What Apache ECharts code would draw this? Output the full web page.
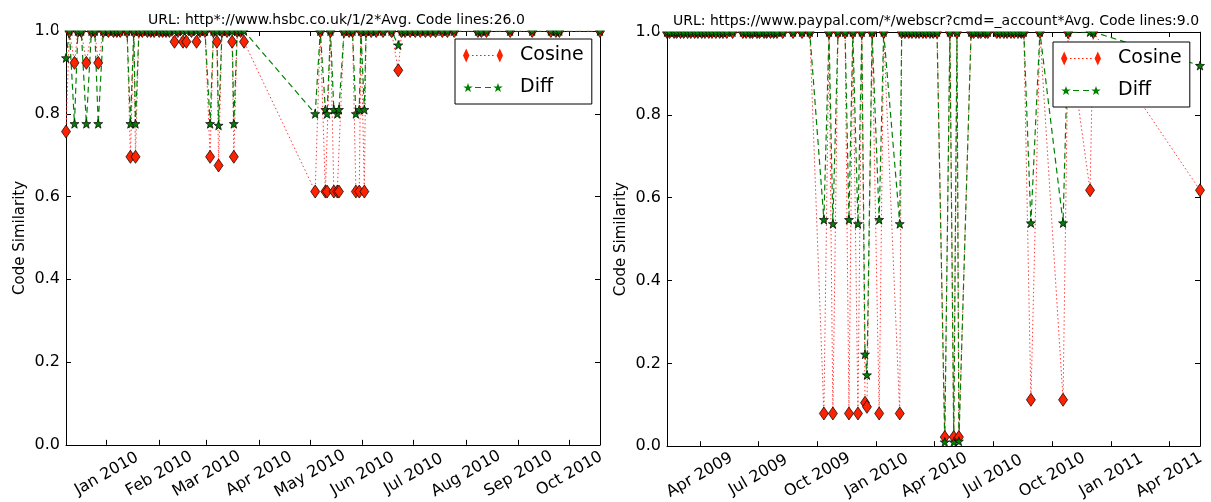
<!DOCTYPE html>
<html>
<head>
<meta charset="utf-8">
<script src="https://cdn.jsdelivr.net/npm/echarts@6/dist/echarts.min.js"></script>
<style>
  html, body { margin: 0; padding: 0; background: #fff; }
  #main { width: 1211px; height: 502px; }
</style>
</head>
<body>
<div id="main"></div>
<script>
const leftTitle = 'URL: http*://www.hsbc.co.uk/1/2*Avg. Code lines:26.0';
const rightTitle = 'URL: https://www.paypal.com/*/webscr?cmd=_account*Avg. Code lines:9.0';
const seriesNames = ['Cosine', 'Diff'];

// left plot (hsbc)
const leftDates = [
  '2009-12-08','2009-12-10','2009-12-13','2009-12-15','2009-12-17','2009-12-20','2009-12-23','2009-12-25','2009-12-27','2009-12-30',
  '2010-01-02','2010-01-05','2010-01-07','2010-01-09','2010-01-13','2010-01-15','2010-01-17','2010-01-18','2010-01-20','2010-01-22','2010-01-25','2010-01-27','2010-01-29',
  '2010-02-01','2010-02-03','2010-02-05','2010-02-07','2010-02-10','2010-02-12','2010-02-15','2010-02-17','2010-02-20','2010-02-23','2010-02-25','2010-02-28',
  '2010-03-03','2010-03-05','2010-03-07','2010-03-08','2010-03-10','2010-03-13','2010-03-16','2010-03-17','2010-03-19','2010-03-21','2010-03-23',
  '2010-05-04','2010-05-07','2010-05-10','2010-05-11','2010-05-13','2010-05-15','2010-05-17','2010-05-18','2010-05-21','2010-05-24','2010-05-26','2010-05-28','2010-05-30','2010-05-31',
  '2010-06-02','2010-06-03','2010-06-06','2010-06-09','2010-06-13','2010-06-18','2010-06-22','2010-06-24','2010-06-26','2010-06-29',
  '2010-07-02','2010-07-05','2010-07-08','2010-07-11','2010-07-14','2010-07-18','2010-07-21','2010-07-25',
  '2010-08-08','2010-08-10','2010-08-13','2010-08-27',
  '2010-09-09','2010-09-20','2010-09-23','2010-09-25',
  '2010-10-19'
];
const leftCosine = [
  0.757,1,0.923,1,1,0.923,1,1,0.923,1,
  1,1,1,1,1,0.696,1,0.696,1,1,1,1,1,
  1,1,1,1,0.974,1,0.974,0.974,1,0.974,1,1,
  0.696,1,0.974,0.675,1,1,0.974,0.696,1,1,0.974,
  0.612,1,0.612,0.612,1,0.612,0.612,0.612,1,1,1,0.612,0.612,1,
  0.612,1,1,1,1,1,0.905,1,1,1,
  1,1,1,1,1,1,1,1,
  1,1,1,1,
  1,1,1,1,
  1
];
const leftDiff = [
  0.935,1,0.776,1,1,0.776,1,1,0.776,1,
  1,1,1,1,1,0.776,1,0.776,1,1,1,1,1,
  1,1,1,1,1,1,1,1,1,1,1,1,
  0.776,1,1,0.772,1,1,1,0.776,1,1,1,
  0.8,1,0.81,0.8,1,0.81,0.8,0.81,1,1,1,0.8,0.81,1,
  0.81,1,1,1,1,1,0.966,1,1,1,
  1,1,1,1,1,1,1,1,
  1,1,1,1,
  1,1,1,1,
  1
];
const leftTicks = ['2010-01-01','2010-02-01','2010-03-01','2010-04-01','2010-05-01','2010-06-01','2010-07-01','2010-08-01','2010-09-01','2010-10-01'];

// right plot (paypal)
const rightDates = [
  '2009-02-09','2009-02-13','2009-02-20','2009-02-24','2009-03-02','2009-03-07','2009-03-13','2009-03-18','2009-03-24','2009-03-29',
  '2009-04-04','2009-04-09','2009-04-15','2009-04-20','2009-04-26','2009-05-02','2009-05-07','2009-05-13','2009-05-22',
  '2009-06-07','2009-06-12','2009-06-18','2009-06-22','2009-06-29','2009-07-03','2009-07-10','2009-07-14','2009-07-20','2009-07-25','2009-07-30',
  '2009-08-08','2009-08-24','2009-09-07','2009-09-19',
  '2009-10-11','2009-10-19','2009-10-25','2009-11-02','2009-11-13','2009-11-19','2009-11-25','2009-12-03','2009-12-09','2009-12-14','2009-12-17','2009-12-25',
  '2010-01-05','2010-01-12','2010-02-06','2010-02-09','2010-02-14','2010-02-20','2010-02-25','2010-03-03','2010-03-08','2010-03-14','2010-03-19','2010-03-25','2010-03-30',
  '2010-04-05','2010-04-17','2010-04-25','2010-05-01','2010-05-06','2010-05-09',
  '2010-05-28','2010-06-01','2010-06-08','2010-06-12','2010-06-19','2010-06-23','2010-07-07','2010-07-12','2010-07-18','2010-07-23','2010-07-29','2010-08-03','2010-08-09','2010-08-14','2010-08-18',
  '2010-08-29','2010-09-12','2010-10-18','2010-10-26','2010-11-29','2010-12-04','2011-05-19'
];
const rightCosine = [
  1,1,1,1,1,1,1,1,1,1,
  1,1,1,1,1,1,1,1,1,
  1,1,1,1,1,1,1,1,1,1,1,
  1,1,1,1,
  0.079,1,0.079,1,1,0.079,1,0.079,1,0.105,0.095,1,
  0.079,1,0.079,1,1,1,1,1,1,1,1,1,1,
  1,0.022,1,0.022,1,0.022,
  1,1,1,1,1,1,1,1,1,1,1,1,1,1,1,
  0.112,1,0.112,1,0.618,1,0.618
];
const rightDiff = [
  1,1,1,1,1,1,1,1,1,1,
  1,1,1,1,1,1,1,1,1,
  1,1,1,1,1,1,1,1,1,1,1,
  1,1,1,1,
  0.547,1,0.537,1,1,0.547,1,0.537,1,0.222,0.172,1,
  0.547,1,0.537,1,1,1,1,1,1,1,1,1,1,
  1,0.010,1,0.010,1,0.012,
  1,1,1,1,1,1,1,1,1,1,1,1,1,1,1,
  0.539,1,0.539,1,1,1,0.919
];
const rightTicks = ['2009-04-01','2009-07-01','2009-10-01','2010-01-01','2010-04-01','2010-07-01','2010-10-01','2011-01-01','2011-04-01'];

const monthNames = ['Jan','Feb','Mar','Apr','May','Jun','Jul','Aug','Sep','Oct','Nov','Dec'];

function ts(s) {
  const p = s.split('-');
  return new Date(+p[0], +p[1] - 1, +p[2]).getTime();
}
function pairs(dates, vals) {
  return dates.map((d, i) => [ts(d), vals[i]]);
}

const starPath = 'path://M10 0L12.35 6.76L19.51 6.91L13.8 11.24L15.88 18.09L10 14L4.12 18.09L6.2 11.24L0.49 6.91L7.65 6.76Z';
// legend icons: marker - line - marker (corner specks keep the box 40x14)
const cosIcon = 'path://M0 0h0.01v0.01h-0.01Z M40 14h-0.01v-0.01h0.01Z M0 7L3.2 0L6.4 7L3.2 14Z M33.6 7L36.8 0L40 7L36.8 14Z ' +
  'M9 6.4h1.6v1.2h-1.6Z M13 6.4h1.6v1.2h-1.6Z M17 6.4h1.6v1.2h-1.6Z M21 6.4h1.6v1.2h-1.6Z M25 6.4h1.6v1.2h-1.6Z M29 6.4h1.6v1.2h-1.6Z';
const diffIcon = 'path://M0 0h0.01v0.01h-0.01Z M40 14h-0.01v-0.01h0.01Z ' +
  'M5 2.5L6.18 5.88L9.76 5.96L6.9 8.12L7.94 11.55L5 9.5L2.06 11.55L3.1 8.12L0.25 5.96L3.82 5.88Z ' +
  'M35 2.5L36.18 5.88L39.76 5.96L36.9 8.12L37.94 11.55L35 9.5L32.06 11.55L33.1 8.12L30.25 5.96L33.82 5.88Z ' +
  'M12 6.4h6v1.2h-6Z M22 6.4h6v1.2h-6Z';

const font = 'DejaVu Sans';
const grids = [
  { left: 66, top: 31, width: 534, height: 414 },
  { left: 667, top: 32, width: 533, height: 419 }
];

// dates are plotted as millisecond values on a value axis
function xAxes(gridIndex, dates, ticks) {
  const base = {
    type: 'value',
    gridIndex: gridIndex,
    min: ts(dates[0]),
    max: ts(dates[dates.length - 1]),
    axisLine: { show: true, onZero: false, lineStyle: { color: '#000', width: 1 } },
    axisTick: { show: true, inside: true, length: 5, customValues: ticks.map(ts), lineStyle: { color: '#000' } },
    splitLine: { show: false },
    minorTick: { show: false }
  };
  return [
    Object.assign({}, base, {
      position: 'bottom',
      axisLabel: {
        show: true,
        customValues: ticks.map(ts),
        rotate: 30,
        align: 'center',
        verticalAlign: 'middle',
        margin: 29,
        fontSize: 16,
        fontFamily: font,
        color: '#000',
        formatter: v => { const d = new Date(v); return monthNames[d.getMonth()] + ' ' + d.getFullYear(); }
      }
    }),
    Object.assign({}, base, { position: 'top', axisLabel: { show: false } })
  ];
}

function yAxes(gridIndex) {
  const base = {
    type: 'value',
    gridIndex: gridIndex,
    min: 0,
    max: 1,
    interval: 0.2,
    axisLine: { show: true, onZero: false, lineStyle: { color: '#000', width: 1 } },
    axisTick: { show: true, inside: true, length: 5, lineStyle: { color: '#000' } },
    splitLine: { show: false }
  };
  return [
    Object.assign({}, base, {
      position: 'left',
      name: 'Code Similarity',
      nameLocation: 'middle',
      nameGap: 38,
      nameTextStyle: { fontSize: 15, fontFamily: font, color: '#000' },
      axisLabel: { fontSize: 16, fontFamily: font, color: '#000', margin: 6, formatter: v => v.toFixed(1) }
    }),
    Object.assign({}, base, { position: 'right', axisLabel: { show: false } })
  ];
}

function lineSeries(name, xi, yi, data) {
  const isCos = name === 'Cosine';
  return {
    name: name,
    type: 'line',
    xAxisIndex: xi,
    yAxisIndex: yi,
    data: data,
    z: 2,
    showAllSymbol: true,
    symbol: isCos ? 'diamond' : starPath,
    symbolSize: isCos ? [9, 13] : 9,
    itemStyle: { color: isCos ? '#ff2200' : '#008000', borderColor: '#000', borderWidth: 0.7 },
    lineStyle: isCos ? { color: '#ff3b3b', width: 1, type: [1.5, 2.5] } : { color: '#008000', width: 1.2, type: [6, 4] },
    emphasis: { disabled: true }
  };
}

function legendAt(left, top) {
  return {
    left: left,
    top: top,
    orient: 'vertical',
    selectedMode: false,
    backgroundColor: '#fff',
    borderColor: '#000',
    borderWidth: 1,
    borderRadius: 0,
    padding: [7, 8, 7, 8],
    itemGap: 13,
    itemWidth: 40,
    itemHeight: 14,
    itemStyle: { borderWidth: 0 },
    textStyle: { fontSize: 19, fontFamily: font, color: '#000', padding: [0, 0, 0, 12] },
    data: [
      { name: seriesNames[0], icon: cosIcon },
      { name: seriesNames[1], icon: diffIcon }
    ]
  };
}

// white strip above each plot so markers sitting on 1.0 look clipped at the frame
function topMask(g) {
  return {
    type: 'rect',
    x: g.left - 8,
    y: g.top - 9,
    z: 10,
    silent: true,
    shape: { x: 0, y: 0, width: g.width + 16, height: 8.5 },
    style: { fill: '#fff' }
  };
}

const chart = echarts.init(document.getElementById('main'));
chart.setOption({
  animation: false,
  textStyle: { fontFamily: font },
  title: [
    { text: leftTitle, left: 143, top: 8, z: 20, textStyle: { fontSize: 14, fontWeight: 'normal', fontFamily: font, color: '#000' } },
    { text: rightTitle, left: 668, top: 9, z: 20, textStyle: { fontSize: 14, fontWeight: 'normal', fontFamily: font, color: '#000' } }
  ],
  legend: [legendAt(455, 39), legendAt(1053, 42)],
  grid: grids,
  graphic: { elements: grids.map(topMask) },
  xAxis: xAxes(0, leftDates, leftTicks).concat(xAxes(1, rightDates, rightTicks)),
  yAxis: yAxes(0).concat(yAxes(1)),
  series: [
    lineSeries(seriesNames[0], 0, 0, pairs(leftDates, leftCosine)),
    lineSeries(seriesNames[1], 0, 0, pairs(leftDates, leftDiff)),
    lineSeries(seriesNames[0], 2, 2, pairs(rightDates, rightCosine)),
    lineSeries(seriesNames[1], 2, 2, pairs(rightDates, rightDiff))
  ]
});
window.addEventListener('resize', () => chart.resize());
</script>
</body>
</html>
